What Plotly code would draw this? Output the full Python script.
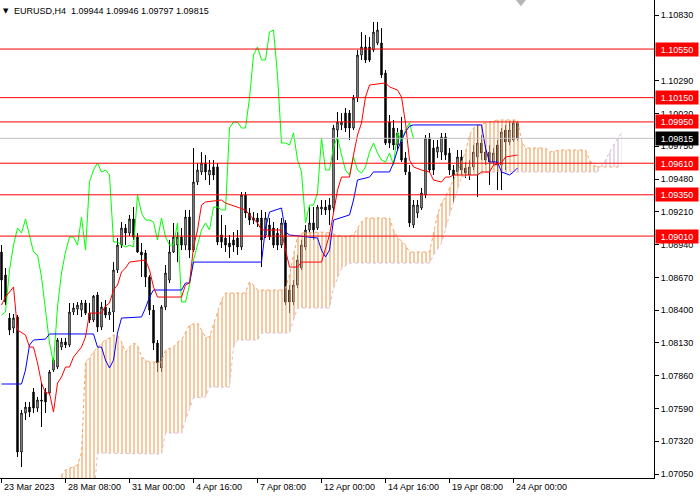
import plotly.graph_objects as go

# EURUSD H4 candles, 23 Mar 16:00 .. 24 Apr 04:00 (bar index on x)
opens = [1.08879, 1.08689, 1.08335, 1.08253, 1.08344, 1.07232, 1.07553, 1.07602, 1.07726, 1.07594,
         1.07660, 1.07726, 1.07718, 1.07907, 1.07932, 1.08096, 1.08138, 1.08113, 1.08385, 1.08409,
         1.08401, 1.08459, 1.08376, 1.08319, 1.08525, 1.08261, 1.08426, 1.08360, 1.08385, 1.08731,
         1.08936, 1.09076, 1.09035, 1.09151, 1.09002, 1.08879, 1.08871, 1.08673, 1.08401, 1.08129,
         1.07924, 1.08426, 1.08648, 1.08879, 1.08936, 1.09002, 1.08936, 1.09167, 1.08895, 1.09455,
         1.09538, 1.09612, 1.09513, 1.09579, 1.09579, 1.09019, 1.08994, 1.08953, 1.08978, 1.08994,
         1.08920, 1.09348, 1.09200, 1.09159, 1.09159, 1.09159, 1.09019, 1.09101, 1.09076, 1.09035,
         1.08936, 1.09118, 1.08566, 1.08467, 1.08607, 1.08747, 1.08920, 1.09060, 1.09118, 1.09076,
         1.09233, 1.09249, 1.09266, 1.09241, 1.09883, 1.09925, 1.10023, 1.10023, 1.09900, 1.10147,
         1.10501, 1.10567, 1.10567, 1.10542, 1.10600, 1.10600, 1.10353, 1.09949, 1.09900, 1.09760,
         1.09883, 1.09653, 1.09538, 1.09101, 1.09200, 1.09241, 1.09348, 1.09818, 1.09735, 1.09702,
         1.09702, 1.09826, 1.09694, 1.09554, 1.09538, 1.09661, 1.09571, 1.09513, 1.09579, 1.09661,
         1.09776, 1.09702, 1.09702, 1.09620, 1.09760, 1.09595, 1.09883, 1.09785, 1.09801, 1.09944]
highs = [1.08936, 1.08747, 1.08376, 1.08368, 1.08360, 1.07578, 1.07644, 1.07644, 1.07759, 1.07685,
         1.07800, 1.07759, 1.07907, 1.08006, 1.08171, 1.08171, 1.08171, 1.08459, 1.08459, 1.08467,
         1.08484, 1.08484, 1.08459, 1.08525, 1.08549, 1.08467, 1.08484, 1.08418, 1.08796, 1.08994,
         1.09126, 1.09109, 1.09184, 1.09249, 1.09035, 1.08953, 1.08895, 1.08689, 1.08442, 1.08154,
         1.08442, 1.08772, 1.08978, 1.09118, 1.09043, 1.09076, 1.09225, 1.09225, 1.09735, 1.09612,
         1.09702, 1.09678, 1.09636, 1.09636, 1.09612, 1.09184, 1.09101, 1.09019, 1.09043, 1.09060,
         1.09373, 1.09373, 1.09241, 1.09208, 1.09200, 1.09225, 1.09208, 1.09159, 1.09126, 1.09076,
         1.09159, 1.09142, 1.08607, 1.08648, 1.08854, 1.08978, 1.09101, 1.09249, 1.09249, 1.09266,
         1.09307, 1.09307, 1.09323, 1.09925, 1.10032, 1.10023, 1.10065, 1.10048, 1.10172, 1.10542,
         1.10690, 1.10666, 1.10649, 1.10773, 1.10773, 1.10723, 1.10378, 1.10007, 1.09966, 1.09900,
         1.09991, 1.09702, 1.09595, 1.09307, 1.09307, 1.09406, 1.09842, 1.09859, 1.09801, 1.09801,
         1.09859, 1.09859, 1.09735, 1.09595, 1.09719, 1.09719, 1.09620, 1.09636, 1.09760, 1.09925,
         1.09842, 1.09760, 1.09760, 1.09735, 1.09801, 1.09900, 1.09925, 1.09949, 1.09966, 1.09946]
lows = [1.08484, 1.08442, 1.08195, 1.08212, 1.07191, 1.07108, 1.07495, 1.07520, 1.07553, 1.07561,
        1.07438, 1.07553, 1.07701, 1.07891, 1.07915, 1.08072, 1.08088, 1.08096, 1.08360, 1.08360,
        1.08344, 1.08360, 1.08294, 1.08302, 1.08220, 1.08236, 1.08335, 1.08319, 1.08220, 1.08706,
        1.08912, 1.08936, 1.09011, 1.08978, 1.08871, 1.08673, 1.08591, 1.08360, 1.08072, 1.07891,
        1.07891, 1.08401, 1.08624, 1.08871, 1.08796, 1.08895, 1.08895, 1.08829, 1.08879, 1.09431,
        1.09513, 1.09472, 1.09431, 1.09472, 1.08936, 1.08912, 1.08879, 1.08829, 1.08879, 1.08854,
        1.08895, 1.09159, 1.09101, 1.09109, 1.09085, 1.08755, 1.08994, 1.08978, 1.08912, 1.08895,
        1.08912, 1.08442, 1.08376, 1.08442, 1.08582, 1.08731, 1.08895, 1.09035, 1.08978, 1.09060,
        1.09184, 1.09184, 1.09101, 1.09208, 1.09636, 1.09883, 1.09867, 1.09801, 1.09883, 1.10114,
        1.10460, 1.10435, 1.10443, 1.10526, 1.10583, 1.10312, 1.09760, 1.09735, 1.09719, 1.09719,
        1.09620, 1.09513, 1.09085, 1.09076, 1.09159, 1.09225, 1.09323, 1.09538, 1.09513, 1.09653,
        1.09636, 1.09636, 1.09513, 1.09282, 1.09513, 1.09513, 1.09488, 1.09472, 1.09554, 1.09332,
        1.09636, 1.09595, 1.09431, 1.09595, 1.09389, 1.09389, 1.09554, 1.09760, 1.09785, 1.09797]
closes = [1.08648, 1.08467, 1.08236, 1.08335, 1.07232, 1.07553, 1.07602, 1.07561, 1.07594, 1.07660,
          1.07652, 1.07644, 1.07891, 1.07989, 1.08154, 1.08138, 1.08113, 1.08385, 1.08418, 1.08442,
          1.08459, 1.08376, 1.08319, 1.08516, 1.08261, 1.08426, 1.08360, 1.08385, 1.08731, 1.08936,
          1.09076, 1.09035, 1.09151, 1.09002, 1.08879, 1.08854, 1.08673, 1.08401, 1.08129, 1.07965,
          1.08426, 1.08706, 1.08879, 1.09002, 1.09002, 1.08936, 1.09167, 1.08895, 1.09455, 1.09554,
          1.09612, 1.09538, 1.09554, 1.09513, 1.08961, 1.08961, 1.08936, 1.08920, 1.08936, 1.08920,
          1.09348, 1.09200, 1.09142, 1.09142, 1.09126, 1.08978, 1.09159, 1.09002, 1.08936, 1.08936,
          1.09118, 1.08467, 1.08467, 1.08607, 1.08813, 1.08936, 1.09060, 1.09118, 1.09060, 1.09249,
          1.09249, 1.09225, 1.09225, 1.09900, 1.09949, 1.09949, 1.09900, 1.09900, 1.10147, 1.10501,
          1.10567, 1.10460, 1.10460, 1.10690, 1.10707, 1.10336, 1.09776, 1.09776, 1.09760, 1.09859,
          1.09636, 1.09538, 1.09118, 1.09266, 1.09266, 1.09365, 1.09818, 1.09554, 1.09554, 1.09743,
          1.09826, 1.09678, 1.09554, 1.09513, 1.09661, 1.09554, 1.09529, 1.09579, 1.09702, 1.09776,
          1.09694, 1.09636, 1.09620, 1.09694, 1.09595, 1.09867, 1.09785, 1.09883, 1.09941, 1.09815]
bars = list(range(len(closes)))

tick_bars = [0, 16, 32, 48, 64, 80, 96, 112, 128]
tick_labels = ["23 Mar 2023", "28 Mar 08:00", "31 Mar 00:00", "4 Apr 16:00", "7 Apr 08:00",
               "12 Apr 00:00", "14 Apr 16:00", "19 Apr 08:00", "24 Apr 00:00"]

# Ichimoku lines, read at the bars where they turn
tenkan_x = [0, 1, 3, 4, 6, 7, 8, 9, 10, 11, 12, 13, 14, 15, 16, 17, 18, 20, 21, 22, 25, 26, 27, 28, 29,
            30, 31, 32, 36, 37, 38, 39, 45, 46, 47, 48, 49, 50, 51, 55, 56, 59, 61, 62, 64, 65, 70, 71,
            72, 74, 75, 80, 81, 82, 83, 84, 85, 87, 88, 89, 90, 91, 92, 96, 97, 99, 100, 101, 102, 103,
            105, 107, 108, 110, 111, 112, 113, 119, 120, 122, 123, 125, 126, 129]
tenkan = [1.08442, 1.08508, 1.08591, 1.08236, 1.08195, 1.08096, 1.08096, 1.07965, 1.07800, 1.07718,
          1.07718, 1.07561, 1.07800, 1.07850, 1.07932, 1.07932, 1.08014, 1.08096, 1.08179, 1.08376,
          1.08376, 1.08434, 1.08459, 1.08566, 1.08607, 1.08714, 1.08747, 1.08796, 1.08813, 1.08731,
          1.08591, 1.08508, 1.08508, 1.08607, 1.08624, 1.08920, 1.09060, 1.09266, 1.09291, 1.09307,
          1.09282, 1.09249, 1.09225, 1.09184, 1.09118, 1.09060, 1.09060, 1.08895, 1.08755, 1.08755,
          1.08796, 1.08796, 1.08912, 1.09019, 1.09200, 1.09389, 1.09496, 1.09496, 1.09678, 1.09842,
          1.09941, 1.10155, 1.10254, 1.10271, 1.10238, 1.10213, 1.10155, 1.09941, 1.09636, 1.09579,
          1.09554, 1.09538, 1.09472, 1.09455, 1.09496, 1.09496, 1.09513, 1.09513, 1.09538, 1.09538,
          1.09595, 1.09612, 1.09661, 1.09678]

kijun_x = [0, 5, 6, 7, 8, 11, 12, 23, 24, 25, 26, 27, 28, 29, 30, 35, 36, 37, 38, 45, 46, 47, 48, 65,
           66, 67, 70, 71, 72, 79, 80, 81, 82, 83, 87, 88, 89, 92, 93, 97, 98, 99, 100, 101, 102, 103,
           120, 121, 122, 124, 125, 127, 128, 129]
kijun = [1.07792, 1.07792, 1.07907, 1.08113, 1.08154, 1.08162, 1.08204, 1.08204, 1.08096, 1.08096,
         1.07989, 1.07924, 1.07989, 1.08212, 1.08335, 1.08344, 1.08418, 1.08508, 1.08566, 1.08566,
         1.08624, 1.08624, 1.08796, 1.08796, 1.09076, 1.09208, 1.09241, 1.09043, 1.09019, 1.08994,
         1.08895, 1.08838, 1.08895, 1.09142, 1.09184, 1.09307, 1.09472, 1.09496, 1.09538, 1.09538,
         1.09612, 1.09719, 1.09801, 1.09867, 1.09916, 1.09925, 1.09925, 1.09735, 1.09620, 1.09620,
         1.09538, 1.09513, 1.09538, 1.09571]

span_a_x = [0, 14, 15, 16, 19, 20, 21, 22, 23, 24, 25, 26, 27, 28, 29, 30, 31, 32, 33, 34, 35, 36, 37,
            40, 41, 43, 44, 45, 46, 47, 49, 50, 51, 52, 53, 54, 55, 56, 61, 62, 63, 64, 70, 71, 72, 73,
            74, 75, 80, 82, 86, 88, 89, 90, 91, 97, 98, 99, 101, 102, 107, 108, 109, 110, 111, 112,
            113, 114, 115, 116, 117, 118, 119, 121, 124, 129, 130, 131, 136, 137, 140, 146, 147, 148,
            149, 155]
span_a = [1.06837, 1.06985, 1.07042, 1.07084, 1.07125, 1.07224, 1.07973, 1.08006, 1.08055, 1.08096,
          1.08129, 1.08154, 1.08171, 1.08195, 1.08195, 1.08138, 1.08055, 1.08096, 1.08129, 1.08113,
          1.08014, 1.07989, 1.07973, 1.07973, 1.08072, 1.08096, 1.08138, 1.08154, 1.08220, 1.08278,
          1.08294, 1.08236, 1.08179, 1.08179, 1.08278, 1.08385, 1.08484, 1.08541, 1.08541, 1.08632,
          1.08607, 1.08566, 1.08566, 1.08582, 1.08689, 1.08854, 1.09002, 1.09035, 1.09043, 1.09035,
          1.09002, 1.09019, 1.09076, 1.09126, 1.09159, 1.09159, 1.09060, 1.09002, 1.08936, 1.08879,
          1.08879, 1.09019, 1.09184, 1.09282, 1.09332, 1.09406, 1.09472, 1.09538, 1.09620, 1.09702,
          1.09842, 1.09900, 1.09925, 1.09941, 1.09966, 1.09966, 1.09801, 1.09735, 1.09735, 1.09702,
          1.09719, 1.09719, 1.09636, 1.09595, 1.09579, 1.09579]

span_b_x = [0, 23, 24, 40, 41, 45, 46, 48, 51, 52, 57, 58, 59, 64, 65, 72, 73, 74, 82, 83, 85, 87,
            107, 108, 110, 112, 114, 115, 121, 122, 149, 151, 153, 155]
span_b = [1.06795, 1.06837, 1.07224, 1.07215, 1.07388, 1.07388, 1.07495, 1.07677, 1.07685, 1.07767,
          1.07767, 1.08096, 1.08154, 1.08154, 1.08212, 1.08212, 1.08319, 1.08418, 1.08418, 1.08582,
          1.08747, 1.08788, 1.08788, 1.08854, 1.08953, 1.09184, 1.09389, 1.09496, 1.09529, 1.09538,
          1.09538, 1.09636, 1.09760, 1.09859]

chikou_shift = 26
levels = [1.10550, 1.10150, 1.09950, 1.09610, 1.09350, 1.09010]
# 1.10560 sits under the 1.10550 tag in the terminal, so it is left out
y_ticks = [1.07050, 1.07320, 1.07590, 1.07860, 1.08130, 1.08400, 1.08670, 1.08940, 1.09210,
           1.09480, 1.09750, 1.10020, 1.10290, 1.10830]

FONT = "Liberation Sans"
SAND = "#f4a460"
THISTLE = "#d8bfd8"

fig = go.Figure()


def cloud_part(keep, fill_color, first_x, first_y, first_col, second_x, second_y, second_col):
    # fill between two span lines, vertical hatch like MT4
    xs1 = [x for x in first_x if keep(x)]
    ys1 = [y for x, y in zip(first_x, first_y) if keep(x)]
    xs2 = [x for x in second_x if keep(x)]
    ys2 = [y for x, y in zip(second_x, second_y) if keep(x)]
    fig.add_trace(go.Scatter(x=xs1, y=ys1, mode="lines",
                             line=dict(color=first_col, width=1, dash="dot")))
    fig.add_trace(go.Scatter(x=xs2, y=ys2, mode="lines", fill="tonexty",
                             fillcolor="rgba(0,0,0,0)",
                             fillpattern=dict(shape="|", size=4, solidity=0.3,
                                              fgcolor=fill_color, fgopacity=1,
                                              bgcolor="rgba(0,0,0,0)"),
                             line=dict(color=second_col, width=1, dash="dot")))


cloud_part(lambda x: x <= 149, SAND, span_b_x, span_b, THISTLE, span_a_x, span_a, SAND)
cloud_part(lambda x: x >= 149, THISTLE, span_a_x, span_a, SAND, span_b_x, span_b, THISTLE)

fig.add_trace(go.Candlestick(
    x=bars, open=opens, high=highs, low=lows, close=closes,
    increasing=dict(line=dict(color="black", width=1), fillcolor="white"),
    decreasing=dict(line=dict(color="black", width=1), fillcolor="black"),
    whiskerwidth=0,
))

fig.add_trace(go.Scatter(x=[b - chikou_shift for b in bars[chikou_shift:]], y=closes[chikou_shift:],
                         mode="lines", line=dict(color="#00ff00", width=1)))
fig.add_trace(go.Scatter(x=kijun_x, y=kijun, mode="lines", line=dict(color="#0000ff", width=1)))
fig.add_trace(go.Scatter(x=tenkan_x, y=tenkan, mode="lines", line=dict(color="#ff0000", width=1)))

# horizontal levels + price tags on the right
for lv in levels:
    fig.add_hline(y=lv, line=dict(color="#ff0000", width=1))
    fig.add_annotation(x=1, xref="paper", y=lv, yref="y", xanchor="left", xshift=1,
                       text=f"{lv:.5f}", showarrow=False, bgcolor="#ff0000",
                       width=40, height=11, font=dict(family=FONT, size=9, color="white"))
bid = closes[-1]
fig.add_hline(y=bid, line=dict(color="#c0c0c0", width=1))
fig.add_annotation(x=1, xref="paper", y=bid, yref="y", xanchor="left", xshift=1,
                   text=f"{bid:.5f}", showarrow=False, bgcolor="black",
                   width=40, height=11, font=dict(family=FONT, size=9, color="white"))

# date labels start at the tick, MT4 style
for b, lab in zip(tick_bars, tick_labels):
    fig.add_annotation(x=b, xref="x", y=0, yref="paper", xanchor="left", yanchor="top",
                       yshift=-2, text=lab, showarrow=False,
                       font=dict(family=FONT, size=9, color="black"))

header = f"EURUSD,H4  {opens[-1]:.5f} {highs[-1]:.5f} {lows[-1]:.5f} {closes[-1]:.5f}"
fig.add_annotation(x=0, xref="paper", y=1, yref="paper", xanchor="left", yanchor="top",
                   xshift=1, yshift=-5, text="▼", showarrow=False,
                   font=dict(family="DejaVu Sans", size=7, color="black"))
fig.add_annotation(x=0, xref="paper", y=1, yref="paper", xanchor="left", yanchor="top",
                   xshift=12, yshift=-4, text=header, showarrow=False,
                   font=dict(family=FONT, size=9, color="black"))

# chart shift marker
fig.add_shape(type="path", xref="x", yref="paper",
              path="M 128.6 1 L 131.1 1 L 129.85 0.987 Z",
              fillcolor="#b4b4b4", line=dict(width=0))

fig.update_layout(
    width=700, height=500,
    margin=dict(l=0, r=46, t=0, b=22),
    paper_bgcolor="white", plot_bgcolor="white",
    showlegend=False,
    boxgap=0.5,
    font=dict(family=FONT, size=9, color="black"),
    xaxis=dict(range=[-0.375, 163.125], rangeslider=dict(visible=False), showgrid=False,
               zeroline=False, showline=True, linecolor="black", linewidth=1,
               tickvals=tick_bars, showticklabels=False, ticks="outside", ticklen=4,
               tickcolor="black"),
    yaxis=dict(range=[1.07018, 1.10954], side="right", showgrid=False, zeroline=False,
               showline=True, linecolor="black", linewidth=1, tickvals=y_ticks,
               tickformat=".5f", ticks="outside", ticklen=4, tickcolor="black",
               ticklabelstandoff=0,
               tickfont=dict(family=FONT, size=9, color="black")),
)

# page body has an 8px default margin; drop it so the figure sits at 0,0
fig.write_html("out.html", config={"displayModeBar": False},
               post_script="document.body.style.margin='0';")
